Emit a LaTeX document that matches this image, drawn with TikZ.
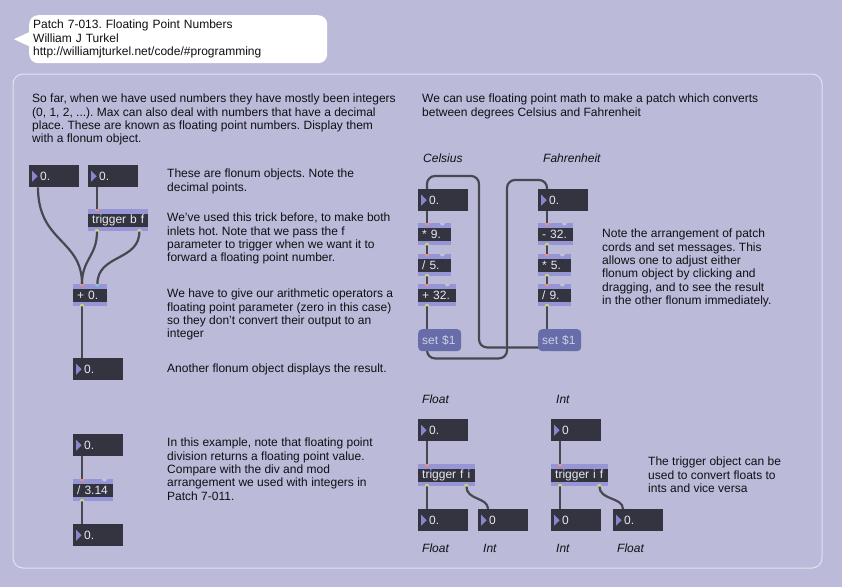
\documentclass[tikz,border=0pt]{standalone}
\usepackage{fontspec}
\setmainfont{Liberation Sans}
\usepackage{tikz}
\frenchspacing

\definecolor{bgc}{RGB}{187,187,217}
\definecolor{panelc}{RGB}{226,226,240}
\definecolor{boxc}{RGB}{52,51,64}
\definecolor{boxtext}{RGB}{232,232,240}
\definecolor{stripc}{RGB}{150,150,214}
\definecolor{arrowc}{RGB}{135,135,205}
\definecolor{msgc}{RGB}{104,108,168}
\definecolor{msgtext}{RGB}{205,208,232}
\definecolor{cordc}{RGB}{72,72,82}
\definecolor{textc}{RGB}{15,15,20}
\definecolor{hotc}{RGB}{228,146,136}
\definecolor{coldc}{RGB}{196,196,206}
\definecolor{cyanc}{RGB}{128,200,212}
\definecolor{outc}{RGB}{204,212,124}

\pgfdeclarelayer{back}
\pgfdeclarelayer{cords}
\pgfsetlayers{back,cords,main}

\begin{document}
\begin{tikzpicture}[
    x=1pt,y=-1pt,
    flonum/.style={fill=boxc,minimum width=50,minimum height=22,inner xsep=11,inner ysep=0,text width=28,align=left,anchor=north west,text=boxtext,font=\fontsize{12}{14}\selectfont,
      path picture={\fill[arrowc] ([xshift=3,yshift=5.5]path picture bounding box.west) -- ([xshift=8.5]path picture bounding box.west) -- ([xshift=3,yshift=-5.5]path picture bounding box.west) -- cycle;}},
    object/.style={fill=stripc,minimum height=22,inner xsep=4,inner ysep=0,text width=#1,align=left,anchor=north west,text=boxtext,font=\fontsize{12}{14}\selectfont,
      path picture={\fill[boxc] ([yshift=-4.5]path picture bounding box.north west) rectangle ([yshift=4.5]path picture bounding box.south east);}},
    message/.style={fill=msgc,rounded corners=4,minimum height=22,inner xsep=4,inner ysep=0,text width=#1,align=left,anchor=north west,text=msgtext,font=\fontsize{12}{14}\selectfont},
    comment/.style={anchor=north west,inner sep=0,align=left,text=textc,font=\fontsize{12}{13.3}\selectfont},
    caption/.style={anchor=west,inner sep=0,text=textc,font=\fontsize{12}{14}\selectfont\itshape},
    cord/.style={draw=cordc,line width=2.2},
    ]
    \useasboundingbox (0,0) rectangle (842,587);
    \begin{pgfonlayer}{back}
      \fill[bgc] (0,0) rectangle (842,587);
      \draw[panelc,line width=1,rounded corners=10] (13,74) rectangle (822,568);
    \end{pgfonlayer}

    \node[fill=white,rounded corners=9,anchor=north west,minimum width=298,minimum height=48,inner xsep=4,text width=290,align=left,text=textc,font=\fontsize{12}{13.5}\selectfont] (title) at (29,15)
      {Patch 7-013. Floating Point Numbers\\William J Turkel\\http://williamjturkel.net/code/\#programming};
    \fill[white] ([yshift=7]title.west) -- ([xshift=-15]title.west) -- ([yshift=-7]title.west) -- cycle;

    \node[comment] (intro) at (32,94) {So far, when we have used numbers they have mostly been integers\\(0, 1, 2, ...). Max can also deal with numbers that have a decimal\\place. These are known as floating point numbers. Display them\\with a flonum object.};
    \node[comment] (noteFlonum) at (167,169) {These are flonum objects. Note the\\decimal points.};
    \node[comment] (noteTrigger) at (167,213) {We've used this trick before, to make both\\inlets hot. Note that we pass the f\\parameter to trigger when we want it to\\forward a floating point number.};
    \node[comment] (noteArith) at (167,289) {We have to give our arithmetic operators a\\floating point parameter (zero in this case)\\so they don't convert their output to an\\integer};
    \node[comment] (noteResult) at (167,364) {Another flonum object displays the result.};
    \node[comment] (noteDiv) at (167,438) {In this example, note that floating point\\division returns a floating point value.\\Compare with the div and mod\\arrangement we used with integers in\\Patch 7-011.};
    \node[comment] (introTemp) at (422,94) {We can use floating point math to make a patch which converts\\between degrees Celsius and Fahrenheit};
    \node[comment] (noteCords) at (602,229) {Note the arrangement of patch\\cords and set messages. This\\allows one to adjust either\\flonum object by clicking and\\dragging, and to see the result\\in the other flonum immediately.};
    \node[comment] (noteConvert) at (648,457) {The trigger object can be\\used to convert floats to\\ints and vice versa};

    \node[caption] (lblCels) at (423,158) {Celsius};
    \node[caption] (lblFahr) at (543,158) {Fahrenheit};
    \node[caption] (lblFloatIn) at (422,399) {Float};
    \node[caption] (lblIntIn) at (556,399) {Int};
    \node[caption] (lblFloatA) at (422,548) {Float};
    \node[caption] (lblIntA) at (483,548) {Int};
    \node[caption] (lblIntB) at (556,548) {Int};
    \node[caption] (lblFloatB) at (617,548) {Float};

    \node[flonum] (flA) at (29,165) {0.};
    \node[flonum] (flB) at (88,165) {0.};
    \node[object=52] (trigBF) at (88,209) {trigger~b~f};
    \node[object=26] (plus) at (73,284) {+~0.};
    \node[flonum] (result) at (73,358) {0.};
    \node[flonum] (divIn) at (73,434) {0.};
    \node[object=32] (divPi) at (73,479) {/~3.14};
    \node[flonum] (divOut) at (73,524) {0.};

    \node[flonum] (cels) at (418,189) {0.};
    \node[object=25] (mulN) at (418,223) {*~9.};
    \node[object=25] (divF) at (418,254) {/~5.};
    \node[object=30] (addT) at (418,284) {+~32.};
    \node[message=35] (setC) at (418,329) {set~\$1};
    \node[flonum] (fahr) at (538,189) {0.};
    \node[object=27] (subT) at (538,223) {-~32.};
    \node[object=25] (mulF) at (538,254) {*~5.};
    \node[object=25] (divN) at (538,284) {/~9.};
    \node[message=35] (setF) at (538,329) {set~\$1};

    \node[flonum] (flIn) at (418,419) {0.};
    \node[object=49] (trigFI) at (418,464) {trigger~f~i};
    \node[flonum] (flOut) at (418,509) {0.};
    \node[flonum] (intOut) at (478,509) {0};
    \node[flonum] (intIn) at (551,419) {0};
    \node[object=49] (trigIF) at (551,464) {trigger~i~f};
    \node[flonum] (intOutB) at (551,509) {0};
    \node[flonum] (flOutB) at (613,509) {0.};

    \begin{pgfonlayer}{cords}
      \foreach \a/\b in {flB/trigBF,plus/result,divIn/divPi,divPi/divOut,cels/mulN,mulN/divF,divF/addT,addT/setC,fahr/subT,subT/mulF,mulF/divN,divN/setF,flIn/trigFI,trigFI/flOut,intIn/trigIF,trigIF/intOutB}
        \draw[cord] ([xshift=9]\a.south west) -- ([xshift=9]\b.north west);
      \draw[cord] ([xshift=9]flA.south west) .. controls +(0,55) and +(0,-45) .. ([xshift=9]plus.north west);
      \draw[cord] ([xshift=9]trigBF.south west) .. controls +(0,25) and +(0,-25) .. ([xshift=9]plus.north west);
      \draw[cord] ([xshift=-9]trigBF.south east) .. controls +(0,30) and +(0,-30) .. ([xshift=-10]plus.north east);
      \draw[cord] ([xshift=-9]trigFI.south east) .. controls +(0,14) and +(0,-12) .. ([xshift=10]intOut.north west);
      \draw[cord] ([xshift=-9]trigIF.south east) .. controls +(0,14) and +(0,-12) .. ([xshift=10]flOutB.north west);
      \draw[cord,rounded corners=8] ([xshift=9]setC.south west) -- ([xshift=9,yshift=-7]setC.south west) -| (507,180) -| ([xshift=9]fahr.north west);
      \draw[cord,rounded corners=8] ([xshift=9,yshift=4]setF.south west) -| (479,176) -| ([xshift=9]cels.north west);
    \end{pgfonlayer}

    \foreach \n in {trigBF,plus,mulN,divF,addT,subT,mulF,divN,divPi,trigFI,trigIF}{
      \fill[hotc] ([xshift=6.5]\n.north west) arc[start angle=180,end angle=0,radius=2.5] -- cycle;
      \fill[outc] ([xshift=6.5]\n.south west) arc[start angle=180,end angle=360,radius=2.5] -- cycle;
    }
    \foreach \n in {mulN,divF,addT,subT,mulF,divN,divPi}
      \fill[coldc] ([xshift=-11.5]\n.north east) arc[start angle=180,end angle=0,radius=2.5] -- cycle;
    \fill[cyanc] ([xshift=-12.5]plus.north east) arc[start angle=180,end angle=0,radius=2.5] -- cycle;
    \foreach \n in {trigBF,trigFI,trigIF}
      \fill[outc] ([xshift=-11.5]\n.south east) arc[start angle=180,end angle=360,radius=2.5] -- cycle;
  \end{tikzpicture}
\end{document}
